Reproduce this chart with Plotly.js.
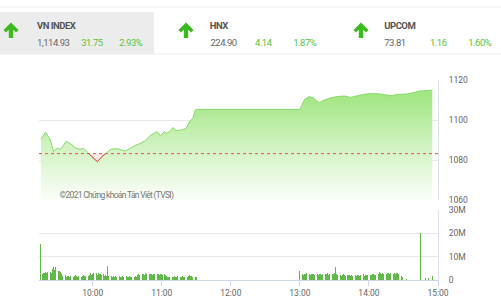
<!DOCTYPE html>
<html>
<head>
<meta charset="utf-8">
<script src="https://cdn.plot.ly/plotly-3.0.1.min.js"></script>
<style>
html,body{margin:0;padding:0;background:#fff;}
#chart{width:501px;height:300px;}
#chart .annotation-text{letter-spacing:-0.5px;}
#chart .annotation[data-index="12"] .annotation-text{letter-spacing:-0.7px;}
</style>
</head>
<body>
<div id="chart"></div>
<script>
// ---------------- DATA ----------------
const indexNames   = ['VN INDEX', 'HNX', 'UPCOM'];
const indexValues  = ['1,114.93', '224.90', '73.81'];
const indexChanges = ['31.75', '4.14', '1.16'];
const indexPcts    = ['2.93%', '1.87%', '1.60%'];

const vnClose = 1114.93;
const vnChange = 31.75;

const priceTimes = ['09:15','09:19','09:23','09:26','09:29','09:32','09:37','09:42','09:45','09:49',
  '09:52','09:56','10:00','10:04','10:08','10:12','10:16','10:22','10:28','10:32',
  '10:37','10:41','10:45','10:50','10:54','10:56','10:59','11:02','11:04','11:07',
  '11:10','11:12','11:17','11:21','11:24','11:27','11:29','11:30','13:00','13:04',
  '13:08','13:12','13:15','13:17','13:20','13:25','13:32','13:39','13:44','13:49',
  '13:55','14:01','14:10','14:15','14:20','14:24','14:33','14:39','14:44','14:55'];
const priceValues = [1090.4,1093.9,1090.3,1084.2,1086.0,1085.2,1089.4,1087.6,1086.0,1085.4,
  1085.8,1083.5,1081.3,1079.2,1081.7,1083.6,1085.5,1085.6,1084.4,1085.6,
  1087.3,1088.2,1089.4,1092.2,1093.8,1094.2,1092.0,1094.2,1093.3,1094.3,
  1096.3,1094.7,1095.0,1095.7,1099.2,1100.8,1105.0,1105.3,1105.3,1110.3,
  1111.7,1111.0,1109.2,1108.8,1109.7,1110.8,1111.7,1112.0,1111.3,1112.0,
  1112.8,1113.2,1113.0,1112.5,1112.2,1112.8,1113.0,1113.7,1114.5,1114.9];

// volume in millions, one bar per minute from the start time
const volMorningStart = '09:15';
const volMorning = [15.3,
  2.6,3.1,2.8,3.3,2.9,3.4,3.0,3.6,3.2,
  4.6,5.4,4.2,5.6,4.8,3.9,
  3.8,3.4,2.6,
  1.8,1.6,2.0,1.5,1.7,1.9,1.4,1.6,1.8,1.5,1.7,2.1,1.6,1.4,1.8,1.9,1.5,1.7,2.2,1.6,1.8,1.5,1.9,
  2.3,2.8,2.1,2.6,3.0,2.4,2.9,2.2,3.1,2.5,2.7,2.0,2.4,1.8,2.2,1.9,
  5.9,
  1.8,1.5,1.7,1.4,1.6,1.3,1.7,1.5,1.4,1.6,1.2,1.5,1.7,1.4,1.3,1.6,1.5,1.4,1.7,1.3,1.5,1.6,1.4,1.8,1.5,
  2.2,2.5,2.3,2.7,2.4,2.6,2.2,2.8,2.5,2.3,2.6,2.4,2.7,2.2,2.5,2.6,2.3,2.4,2.6,2.2,2.5,2.4,2.3,2.5,2.1,
  1.6,1.4,1.5,1.3,1.6,1.4,1.5,1.7,1.3,1.4,1.6,1.5,1.3,1.4,1.6,1.5,1.4,1.3,1.5,1.9,2.1,1.8,1.6,1.4,1.5,1.3,1.2];
const volAfternoonStart = '13:00';
const volAfternoon = [3.7,
  2.3,2.5,2.2,2.6,2.4,2.8,2.3,2.5,2.1,2.7,2.4,2.6,2.2,2.9,2.5,2.3,2.7,2.4,2.2,2.6,2.8,2.4,2.5,3.0,2.3,2.6,2.4,2.7,2.5,2.9,
  5.4,
  2.6,2.2,2.0,2.3,1.9,2.1,2.4,2.0,1.8,2.2,2.0,2.3,1.9,2.1,1.8,2.0,2.2,1.9,2.1,2.3,1.8,2.0,2.2,2.4,1.9,2.1,2.0,2.3,2.5,2.2,2.0,2.4,2.6,2.1,2.3,2.7,2.4,
  3.4,
  2.8,2.6,3.0,2.7,2.9,2.5,3.1,2.8,2.6,3.0,3.2,2.7,2.9,2.5,2.8,3.0,2.6,2.4,1.8,1.2];
const volLateTimes = ['14:33','14:45','14:49','14:52','14:55'];
const volLate = [0.5,20.3,1.0,0.8,1.8];

const priceTicks = [1060,1080,1100,1120];
const volTicks = [0,10,20,30];
const volTickText = ['0','10M','20M','30M'];
const timeTicks = ['10:00','11:00','12:00','13:00','14:00','15:00'];
const watermark = '©2021 Chứng khoán Tân Việt (TVSI)';

// ---------------- HELPERS ----------------
const DAY = [2021,0,15];
function tm(s){ const p=s.split(':'); return Date.UTC(DAY[0],DAY[1],DAY[2],+p[0],+p[1],p[2]?+p[2]:0); }
const MIN = 60000;

const ref = +(vnClose - vnChange).toFixed(2);

const px = priceTimes.map(tm);
const volX = [], volY = [];
volMorning.forEach((v,i)=>{ volX.push(tm(volMorningStart)+i*MIN); volY.push(v); });
volAfternoon.forEach((v,i)=>{ volX.push(tm(volAfternoonStart)+i*MIN); volY.push(v); });
volLateTimes.forEach((t,i)=>{ volX.push(tm(t)); volY.push(volLate[i]); });

// segments below reference
const segs = [];
let cur = null;
for (let i=0;i<px.length;i++){
  const v = priceValues[i];
  if (i>0){
    const v0 = priceValues[i-1];
    if ((v0>=ref && v<ref) || (v0<ref && v>=ref)){
      const f = (ref - v0)/(v - v0);
      const xc = px[i-1] + f*(px[i]-px[i-1]);
      if (v<ref){ cur = {x:[xc], y:[ref]}; }
      else if (cur){ cur.x.push(xc); cur.y.push(ref); segs.push(cur); cur=null; }
    }
  } else if (v<ref){ cur={x:[],y:[]}; }
  if (v<ref && cur){ cur.x.push(px[i]); cur.y.push(v); }
}
if (cur) segs.push(cur);

// pixel -> paper conversion for the header
const L=39, R=438, T=80, B=280;
const pX = x => (x-L)/(R-L);
const pY = y => (B-y)/(B-T);

// ---------------- TRACES ----------------
const traces = [];
traces.push({
  x: px, y: priceValues, type:'scatter', mode:'lines',
  line:{color:'#8ad96c', width:1},
  fill:'tozeroy',
  fillgradient:{type:'vertical', start:1060, stop:1112,
    colorscale:[[0,'#fbfef9'],[0.45,'#d6f4c9'],[1,'#a3e684']]},
  xaxis:'x', yaxis:'y', hoverinfo:'skip'
});
segs.forEach(s=>{
  traces.push({x:s.x, y:s.x.map(()=>ref), type:'scatter', mode:'lines',
    line:{width:0, color:'rgba(0,0,0,0)'}, xaxis:'x', yaxis:'y', hoverinfo:'skip'});
  traces.push({x:s.x, y:s.y, type:'scatter', mode:'lines', fill:'tonexty',
    fillcolor:'rgba(255,232,232,0.95)', line:{color:'#e23b3b', width:1},
    xaxis:'x', yaxis:'y', hoverinfo:'skip'});
});
traces.push({
  x: volX, y: volY, type:'bar', width: 0.75*MIN,
  marker:{color:'#62b84a', line:{width:0}},
  xaxis:'x', yaxis:'y2', hoverinfo:'skip'
});

// ---------------- LAYOUT ----------------
const FONT = 'Roboto, "Liberation Sans", sans-serif';
const shapes = [
  {type:'line', xref:'paper', yref:'y', x0:0, x1:1, y0:ref, y1:ref,
   line:{color:'#de5a3c', width:1, dash:'dot'}},
  {type:'rect', xref:'paper', yref:'paper', x0:pX(0), x1:pX(154), y0:pY(12), y1:pY(54),
   fillcolor:'#ececec', line:{width:0}, layer:'below'},
  {type:'line', xref:'paper', yref:'paper', x0:pX(0), x1:pX(501), y0:pY(7), y1:pY(7),
   line:{color:'#eeeeee', width:1}},
  {type:'line', xref:'paper', yref:'paper', x0:pX(0), x1:pX(501), y0:pY(54), y1:pY(54),
   line:{color:'#eeeeee', width:1}}
];
const arrowX = [11, 186, 361];
arrowX.forEach(cx=>{
  const pts = [[cx,22.5],[cx+7.5,30],[cx+5,32.5],[cx+2.2,29.7],[cx+2.2,38],[cx-2.2,38],[cx-2.2,29.7],[cx-5,32.5],[cx-7.5,30]];
  const d = 'M' + pts.map(p=>pX(p[0])+','+pY(p[1])).join(' L') + ' Z';
  shapes.push({type:'path', xref:'paper', yref:'paper', path:d, fillcolor:'#3cba1f', line:{width:0}});
});

const ann = [];
const labelX = [33, 207, 381];
const chgX = [78, 252, 427];
const pctX = [146, 320, 495];
indexNames.forEach((n,i)=>{
  ann.push({text:'<b>'+n+'</b>', x:pX(labelX[i]), y:pY(25), xref:'paper', yref:'paper', showarrow:false,
    xanchor:'left', yanchor:'middle', font:{family:FONT, size:9.5, color:'#555'}});
  ann.push({text:indexValues[i], x:pX(labelX[i]), y:pY(43), xref:'paper', yref:'paper', showarrow:false,
    xanchor:'left', yanchor:'middle', font:{family:FONT, size:9.5, color:'#666'}});
  ann.push({text:indexChanges[i], x:pX(chgX[i]), y:pY(43), xref:'paper', yref:'paper', showarrow:false,
    xanchor:'left', yanchor:'middle', font:{family:FONT, size:9.5, color:'#55c43a'}});
  ann.push({text:indexPcts[i], x:pX(pctX[i]), y:pY(43), xref:'paper', yref:'paper', showarrow:false,
    xanchor:'right', yanchor:'middle', font:{family:FONT, size:9.5, color:'#55c43a'}});
});
ann.push({text:watermark, x:pX(46), y:pY(195), xref:'paper', yref:'paper', showarrow:false,
  xanchor:'left', yanchor:'middle', font:{family:FONT, size:8.5, color:'#777'}});

const layout = {
  width:501, height:300,
  margin:{l:L, r:501-R, t:T, b:300-B, pad:0},
  paper_bgcolor:'#fff', plot_bgcolor:'rgba(0,0,0,0)',
  showlegend:false, hovermode:false, bargap:0,
  font:{family:FONT, size:9, color:'#666'},
  xaxis:{type:'date', anchor:'y2', range:[tm('09:13:20'), tm('15:00')],
    tickvals:timeTicks.map(tm), ticktext:timeTicks,
    ticks:'outside', ticklen:5, tickcolor:'#ccd6eb', tickwidth:1,
    showline:true, linecolor:'#ccd6eb', linewidth:1,
    showgrid:false, zeroline:false, tickfont:{size:8.5, color:'#666'}},
  yaxis:{domain:[0.4,1], range:[1060,1120], side:'right', anchor:'x',
    tickvals:priceTicks, showgrid:true, gridcolor:'#e8e8e8', gridwidth:1,
    showline:true, linecolor:'#dde3ec', zeroline:false, ticks:'',
    ticklabelstandoff:8, tickfont:{size:8.5, color:'#666'}},
  yaxis2:{domain:[0,0.35], range:[0,30], side:'right', anchor:'x',
    tickvals:volTicks, ticktext:volTickText, showgrid:true, gridcolor:'#e8e8e8',
    showline:true, linecolor:'#dde3ec', zeroline:false, ticks:'',
    ticklabelstandoff:8, tickfont:{size:8.5, color:'#666'}},
  shapes: shapes,
  annotations: ann
};

Plotly.newPlot('chart', traces, layout, {staticPlot:true, displayModeBar:false});
</script>
</body>
</html>
